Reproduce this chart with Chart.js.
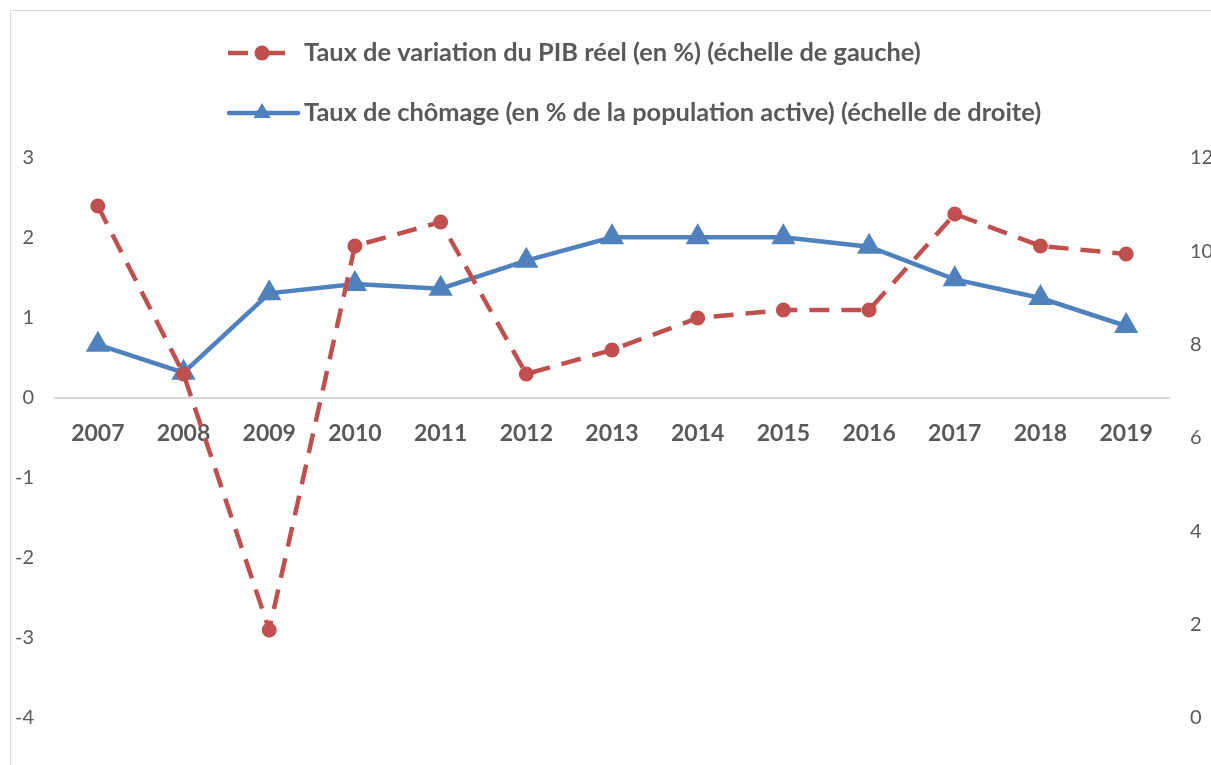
<!DOCTYPE html>
<html>
<head>
<meta charset="utf-8">
<script src="https://cdn.jsdelivr.net/npm/chart.js@4/dist/chart.umd.min.js"></script>
<style>
    html, body { margin: 0; padding: 0; background: #fff; overflow: hidden; }
    #box {
        position: absolute;
        left: 10px;
        top: 10px;
        width: 1260px;
        height: 790px;
        border: 1px solid #d9d9d9;
    }
</style>
</head>
<body>
<div id="box"><canvas id="pibChart" width="1260" height="790"></canvas></div>
<script>
// Data
const years = ['2007', '2008', '2009', '2010', '2011', '2012', '2013', '2014', '2015', '2016', '2017', '2018', '2019'];
const pibValues = [2.4, 0.3, -2.9, 1.9, 2.2, 0.3, 0.6, 1.0, 1.1, 1.1, 2.3, 1.9, 1.8];
const chomageValues = [8.0, 7.4, 9.1, 9.3, 9.2, 9.8, 10.3, 10.3, 10.3, 10.1, 9.4, 9.0, 8.4];
const leftTicks = [-4, -3, -2, -1, 0, 1, 2, 3];
const rightTicks = [0, 2, 4, 6, 8, 10, 12];

const textColor = '#595959';
const red = '#C0504D';
const blue = '#4F81BD';

// Legend drawn by hand so both rows start at the same x (like Excel)
const stackedLegend = {
    id: 'stackedLegend',
    afterDraw: (chart) => {
        const ctx = chart.ctx;
        const rows = [42, 102];
        ctx.save();
        chart.data.datasets.forEach((ds, i) => {
            const y = rows[i];
            ctx.strokeStyle = ds.borderColor;
            ctx.fillStyle = ds.borderColor;
            ctx.lineWidth = ds.borderWidth;
            ctx.beginPath();
            if (ds.borderDash) {
                // dash, marker, dash
                ctx.lineCap = 'butt';
                ctx.moveTo(217, y);
                ctx.lineTo(237, y);
                ctx.moveTo(251, y);
                ctx.lineTo(274, y);
            } else {
                ctx.lineCap = 'round';
                ctx.moveTo(218, y);
                ctx.lineTo(287, y);
            }
            ctx.stroke();
            Chart.helpers.drawPoint(ctx, {
                pointStyle: ds.pointStyle,
                radius: ds.pointStyle === 'triangle' ? 10 : ds.pointRadius,
                borderWidth: 0
            }, 251, y);
            ctx.fillStyle = textColor;
            ctx.font = 'bold 25.4px Lato';
            ctx.textAlign = 'left';
            ctx.textBaseline = 'middle';
            ctx.fillText(ds.label, 293, y);
        });
        ctx.restore();
    }
};

const ctx = document.getElementById('pibChart').getContext('2d');
new Chart(ctx, {
    type: 'line',
    data: {
        labels: years,
        datasets: [
            {
                label: 'Taux de variation du PIB réel (en %) (échelle de gauche)',
                data: pibValues,
                yAxisID: 'y',
                borderColor: red,
                backgroundColor: red,
                borderWidth: 4.5,
                borderDash: [20, 12],
                pointStyle: 'circle',
                pointRadius: 7.5,
                pointBorderWidth: 0,
                pointBackgroundColor: red,
                tension: 0,
                fill: false
            },
            {
                label: 'Taux de chômage (en % de la population active) (échelle de droite)',
                data: chomageValues,
                yAxisID: 'y1',
                borderColor: blue,
                backgroundColor: blue,
                borderWidth: 4.5,
                pointStyle: 'triangle',
                pointRadius: 14,
                pointBorderWidth: 0,
                pointBackgroundColor: blue,
                tension: 0,
                fill: false
            }
        ]
    },
    options: {
        responsive: false,
        animation: false,
        devicePixelRatio: 1,
        layout: {
            padding: { top: 147, bottom: 83, left: 0, right: 0 }
        },
        plugins: {
            legend: { display: false },
            tooltip: { enabled: false }
        },
        scales: {
            x: {
                type: 'category',
                offset: true,
                position: { y: 0 },
                grid: { display: false, drawTicks: false },
                border: { display: true, color: '#d9d9d9', width: 2 },
                ticks: {
                    color: textColor,
                    font: { family: 'Lato', size: 23, weight: 'bold' },
                    padding: 22,
                    maxRotation: 0,
                    autoSkip: false
                },
                afterFit: (scale) => { scale.height = 0; }
            },
            y: {
                position: 'left',
                min: leftTicks[0],
                max: leftTicks[leftTicks.length - 1],
                grid: { display: false, drawTicks: false },
                border: { display: false },
                afterBuildTicks: (scale) => {
                    scale.ticks = leftTicks.map(v => ({ value: v }));
                },
                ticks: {
                    color: textColor,
                    font: { family: 'Lato', size: 20 },
                    padding: 21
                },
                afterFit: (scale) => { scale.width = 44; }
            },
            y1: {
                position: 'right',
                min: rightTicks[0],
                max: rightTicks[rightTicks.length - 1],
                grid: { display: false, drawTicks: false },
                border: { display: false },
                afterBuildTicks: (scale) => {
                    scale.ticks = rightTicks.map(v => ({ value: v }));
                },
                ticks: {
                    color: textColor,
                    font: { family: 'Lato', size: 20 },
                    padding: 21
                },
                afterFit: (scale) => { scale.width = 102; }
            }
        }
    },
    plugins: [stackedLegend]
});
</script>
</body>
</html>
